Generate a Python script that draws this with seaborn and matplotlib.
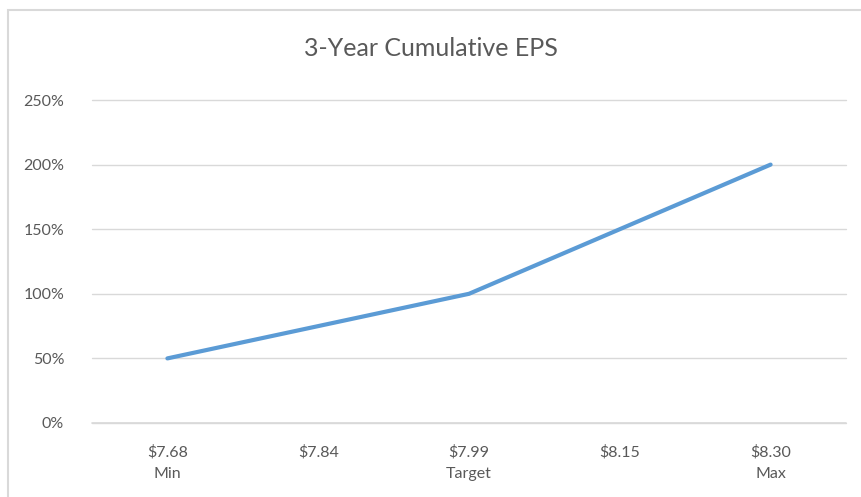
import pandas as pd
import matplotlib.pyplot as plt
import seaborn as sns
from matplotlib.patches import Rectangle

# Data
eps_levels = ["$7.68\nMin", "$7.84", "$7.99\nTarget", "$8.15", "$8.30\nMax"]
payout_pct = [50, 75, 100, 150, 200]
y_ticks = [0, 50, 100, 150, 200, 250]

df = pd.DataFrame({"eps": eps_levels, "payout": payout_pct})

sns.set_theme(style="white")
plt.rcParams['font.family'] = ['Lato', 'DejaVu Sans']
text_color = '#595959'

fig = plt.figure(figsize=(8.61, 4.97), dpi=100)
ax = fig.add_axes([92 / 861, 1 - 423 / 497, 754 / 861, 323 / 497])

# chart border (Excel-style frame, cut off at right/bottom)
fig.patches.append(Rectangle((8 / 861, -0.1), 1.0, 1 - 10 / 497 + 0.1,
                             transform=fig.transFigure, fill=False,
                             edgecolor='#D9D9D9', linewidth=1.5))

sns.lineplot(data=df, x="eps", y="payout", ax=ax, color='#5B9BD5',
             linewidth=3, sort=False)

ax.set_xlim(-0.5, len(eps_levels) - 0.5)
ax.set_ylim(0, 250)
ax.set_yticks(y_ticks)
ax.set_yticklabels([f"{v}%" for v in y_ticks])
ax.yaxis.grid(True, color='#D9D9D9', linewidth=1)
for gl in ax.get_ygridlines():
    gl.set_clip_on(False)
ax.axhline(0, color='#D9D9D9', linewidth=1.2, clip_on=False, zorder=0)
ax.set_axisbelow(True)
for s in ax.spines.values():
    s.set_visible(False)
ax.tick_params(axis='both', length=0, labelsize=11.5, colors=text_color)
ax.tick_params(axis='y', pad=20)
ax.tick_params(axis='x', pad=16)
for lbl in ax.get_xticklabels():
    lbl.set_linespacing(1.7)
ax.set_xlabel("")
ax.set_ylabel("")

fig.text(0.5, 1 - 48 / 497, "3-Year Cumulative EPS", ha='center', va='center',
         fontsize=18, color=text_color)

plt.savefig("out.png", dpi=100)
plt.close()
